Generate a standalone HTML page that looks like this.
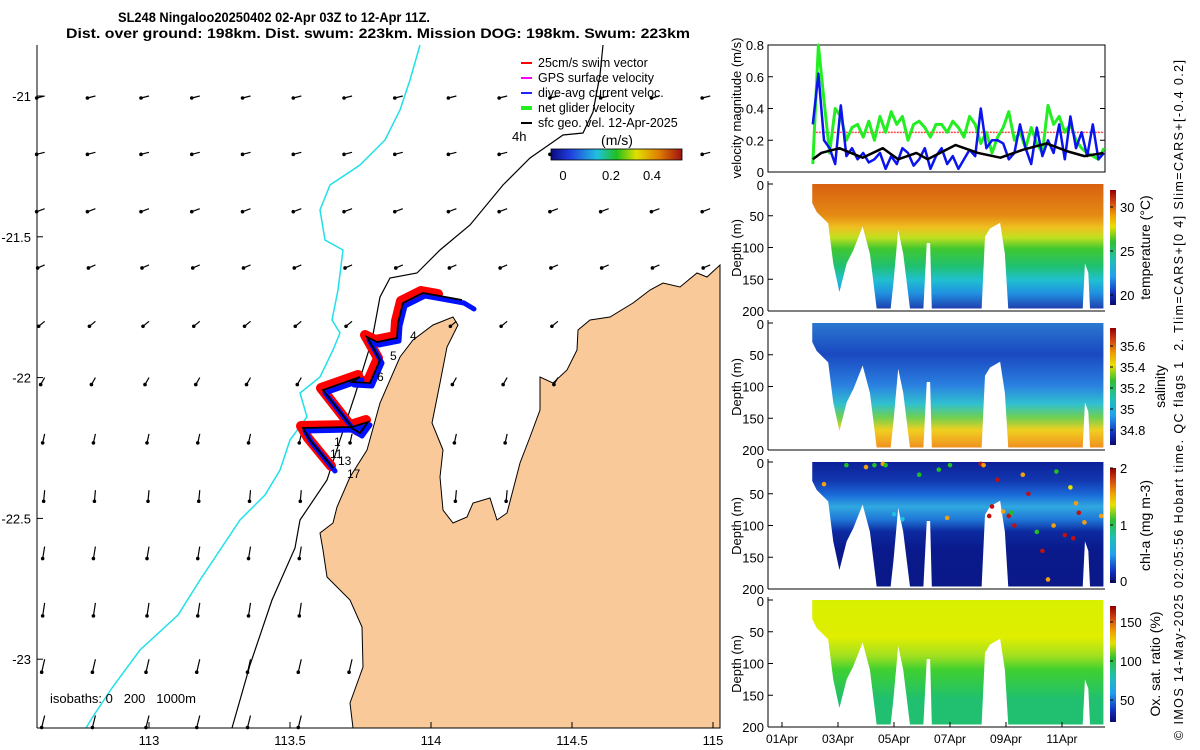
<!DOCTYPE html>
<html><head><meta charset="utf-8"><style>
html,body{margin:0;padding:0;background:#fff}
svg{display:block;font-family:"Liberation Sans",sans-serif}
.pre{white-space:pre}
</style></head><body>
<svg id="s" width="1200" height="750" viewBox="0 0 1200 750" xmlns="http://www.w3.org/2000/svg">
<defs>
<linearGradient id="gT" x1="0" y1="0" x2="0" y2="1"><stop offset="0" stop-color="#d86010"/><stop offset="0.25" stop-color="#e48a14"/><stop offset="0.35" stop-color="#f0c020"/><stop offset="0.43" stop-color="#c0e020"/><stop offset="0.52" stop-color="#40c830"/><stop offset="0.66" stop-color="#20c070"/><stop offset="0.77" stop-color="#20c0d0"/><stop offset="0.88" stop-color="#2090e0"/><stop offset="1" stop-color="#2040b0"/></linearGradient>
<linearGradient id="gS" x1="0" y1="0" x2="0" y2="1"><stop offset="0" stop-color="#2a78d0"/><stop offset="0.25" stop-color="#1a48c0"/><stop offset="0.5" stop-color="#2a80e0"/><stop offset="0.65" stop-color="#30c0d0"/><stop offset="0.76" stop-color="#70d050"/><stop offset="0.86" stop-color="#f0d020"/><stop offset="1" stop-color="#f09020"/></linearGradient>
<linearGradient id="gC" x1="0" y1="0" x2="0" y2="1"><stop offset="0" stop-color="#0c2098"/><stop offset="0.15" stop-color="#1238b0"/><stop offset="0.26" stop-color="#1a68d8"/><stop offset="0.36" stop-color="#30a8e0"/><stop offset="0.46" stop-color="#2078d8"/><stop offset="0.56" stop-color="#0c2aa0"/><stop offset="0.7" stop-color="#0a1a8c"/><stop offset="1" stop-color="#0a1888"/></linearGradient>
<linearGradient id="gO" x1="0" y1="0" x2="0" y2="1"><stop offset="0" stop-color="#d8f000"/><stop offset="0.3" stop-color="#e0ee00"/><stop offset="0.45" stop-color="#a0e020"/><stop offset="0.56" stop-color="#40d030"/><stop offset="0.8" stop-color="#20c070"/><stop offset="1" stop-color="#20c070"/></linearGradient>
<linearGradient id="cbV" x1="0" y1="0" x2="0" y2="1"><stop offset="0" stop-color="#900000"/><stop offset="0.1" stop-color="#d04010"/><stop offset="0.22" stop-color="#f0a000"/><stop offset="0.32" stop-color="#e8e000"/><stop offset="0.45" stop-color="#30c030"/><stop offset="0.6" stop-color="#20c0b0"/><stop offset="0.75" stop-color="#20a0f0"/><stop offset="0.9" stop-color="#1030c0"/><stop offset="1" stop-color="#0a0a70"/></linearGradient>
<linearGradient id="cbH" x1="0" y1="0" x2="1" y2="0"><stop offset="0" stop-color="#0a0a80"/><stop offset="0.15" stop-color="#2040e0"/><stop offset="0.35" stop-color="#20c0e0"/><stop offset="0.5" stop-color="#20c020"/><stop offset="0.65" stop-color="#e0e000"/><stop offset="0.82" stop-color="#e08000"/><stop offset="1" stop-color="#a01010"/></linearGradient>
</defs>
<g id="map"></g>
<g id="right"></g>
</svg>
<script>
// ---------- data ----------
const velT = [1.1,1.3,1.5,1.7,1.9,2.1,2.3,2.5,2.7,2.9,3.1,3.3,3.5,3.7,3.9,4.1,4.3,4.5,4.7,4.9,5.1,5.3,5.5,5.7,5.9,6.1,6.3,6.5,6.7,6.9,7.1,7.3,7.5,7.7,7.9,8.1,8.3,8.5,8.7,8.9,9.1,9.3,9.5,9.7,9.9,10.1,10.3,10.5,10.7,10.9,11.1,11.3,11.5];
const netGlider = [0.05,0.8,0.45,0.12,0.4,0.35,0.2,0.28,0.3,0.22,0.32,0.2,0.35,0.25,0.38,0.3,0.35,0.2,0.3,0.32,0.28,0.22,0.3,0.3,0.25,0.32,0.28,0.22,0.35,0.3,0.18,0.25,0.12,0.22,0.28,0.38,0.2,0.25,0.15,0.28,0.18,0.12,0.42,0.3,0.35,0.25,0.3,0.2,0.15,0.12,0.1,0.08,0.15];
const diveAvg = [0.3,0.62,0.2,0.15,0.05,0.42,0.1,0.15,0.08,0.12,0.06,0.08,0.12,0.02,0.1,0.05,0.15,0.12,0.04,0.08,0.15,0.02,0.1,0.15,0.05,0.1,0.02,0.08,0.14,0.1,0.4,0.15,0.2,0.2,0.18,0.08,0.12,0.3,0.15,0.05,0.28,0.1,0.2,0.12,0.3,0.08,0.35,0.15,0.25,0.1,0.3,0.08,0.12];
const geoT = [1.1,1.4,2.05,2.88,3.6,4.15,4.8,5.2,6.2,7.0,7.8,8.6,9.45,10.2,10.8,11.48];
const geoV = [0.08,0.12,0.15,0.09,0.15,0.08,0.12,0.08,0.17,0.12,0.09,0.14,0.18,0.13,0.1,0.12];
const swimSpeed = 0.25;
const envT = [1.08,1.08,1.24,1.65,1.83,2.05,2.31,2.55,2.88,3.14,3.38,3.88,3.98,4.15,4.33,4.57,5.05,5.17,5.29,5.35,7.13,7.25,7.43,7.79,7.96,8.08,10.74,10.82,10.94,11.0,11.48,11.48];
const envD = [0,30,44,62,125,170,125,104,67,110,196,196,156,72,110,196,196,93,93,196,196,83,70,61,110,196,196,125,140,196,196,0];
const chlDotT = [1.5,2.3,3.0,3.3,3.6,3.7,4.0,4.3,4.9,5.6,5.9,6.0,7.1,7.2,7.4,7.5,7.7,7.9,8.1,8.2,8.3,8.6,8.8,9.1,9.3,9.5,9.7,9.8,10.1,10.3,10.4,10.5,10.6,10.8,11.4];
const chlDotD = [35,5,8,5,3,5,82,90,20,12,88,5,3,5,85,70,28,78,85,80,100,20,50,110,140,185,100,15,115,40,120,65,80,95,85];
const chlDotV = [1.5,1.0,1.5,1.0,1.4,1.0,0.8,0.8,1.0,1.0,1.5,1.0,2.0,1.6,2.0,1.9,2.0,1.5,2.0,1.0,2.0,1.7,2.0,0.9,1.8,1.5,1.4,1.0,2.0,1.2,2.0,1.5,2.0,1.5,1.4];
const dayTicks = [0,2,4,6,8,10];
const dayLabels = ["01Apr","03Apr","05Apr","07Apr","09Apr","11Apr"];
const velTicks = [0,0.2,0.4,0.6,0.8];
const depthTicks = [0,50,100,150,200];
const lonTicks = [113,113.5,114,114.5,115];
const latTicks = [-21,-21.5,-22,-22.5,-23];
const windLat = [-21,-21.2,-21.4,-21.6,-21.8,-22,-22.2,-22.4,-22.6,-22.8,-23,-23.2];
const windLon = [112.63,112.81,113,113.18,113.36,113.54,113.72,113.9,114.09,114.27,114.45,114.63,114.81,114.99];
const windU = [-8,-8,-8,-7,-6,-4,-2,-1,-2,-2,-3,-3];
const windV = [2,2,3,3,5,7,9,11,12,13,13,12];

const NS="http://www.w3.org/2000/svg";
function mk(tag, attrs, parent, text){const e=document.createElementNS(NS,tag);for(const k in attrs)e.setAttribute(k,attrs[k]);if(text!==undefined)e.textContent=text;parent.appendChild(e);return e;}
const map=document.getElementById('map'), right=document.getElementById('right'), svg=document.getElementById('s');

// ---------- map ----------
const lonX = lon => 149 + (lon-113)*282;
const latY = lat => 96 + (-21-lat)*281.6;
const landPts = [[353,728],[350,703],[363,667],[362,627],[350,600],[327,577],[323,550],[320,533],[333,523],[337,507],[350,477],[367,450],[380,403],[400,357],[413,340],[433,325],[453,317],[458,325],[447,347],[440,383],[432,423],[443,450],[440,477],[443,510],[453,523],[467,517],[473,503],[490,498],[497,520],[507,513],[513,490],[520,463],[530,437],[540,410],[540,377],[553,383],[567,370],[577,350],[578,330],[590,320],[610,317],[633,303],[650,290],[663,283],[680,287],[697,273],[707,277],[720,265],[720,728]];
const landD = 'M'+landPts.map(p=>p.join(',')).join('L')+'Z';
const land = mk('path',{d:landD,fill:'#fac99a',stroke:'#000','stroke-width':1},map);


const cyanPts=[[420,45],[410,80],[400,110],[385,140],[360,165],[330,185],[320,210],[325,240],[343,250],[338,290],[332,320],[340,333],[333,350],[320,377],[300,393],[307,417],[290,440],[280,470],[265,495],[240,520],[220,550],[200,580],[178,615],[140,650],[112,688],[92,718],[86,728]];
const cy=mk('polyline',{points:cyanPts.map(p=>p.join(',')).join(' '),fill:'none',stroke:'#20e0e8','stroke-width':1.5},map);


const isoPts=[[232,728],[250,665],[272,600],[295,548],[300,520],[327,480],[340,440],[355,395],[372,340],[380,297],[390,278],[417,273],[440,250],[470,225],[503,185],[530,158],[553,142],[563,135],[583,133],[593,112],[600,75],[603,45]];
const iso=mk('polyline',{points:isoPts.map(p=>p.join(',')).join(' '),fill:'none',stroke:'#000','stroke-width':1.2},map);


// wind arrows
const cv=document.createElement('canvas').getContext('2d');
const landPath=new Path2D(landD);
const wg=mk('g',{},map);


windLat.forEach((la,i)=>{windLon.forEach(lo=>{
  const x=lonX(lo), y=latY(la);
  if(x<40||x>718||y>726) return;
  if(cv.isPointInPath(landPath,x,y)) return;
  const x2=x+windU[i], y2=y+windV[i];
  const a=mk('line',{x1:x,y1:y,x2:x2,y2:y2,stroke:'#000','stroke-width':1.2},wg);
  
  
  const h=mk('circle',{cx:x2,cy:y2,r:1.8,fill:'#000'},wg);
  
  
});});
// track
const trackPts=[[472,306],[462,300],[440,296],[423,293],[403,303],[398,323],[397,338],[377,342],[367,337],[380,360],[370,383],[352,382],[360,377],[323,390],[352,427],[368,422],[360,433],[350,427],[303,428],[310,440],[333,468]];
const tp=p=>p.map(q=>q.join(',')).join(' ');
const red=mk('polyline',{points:tp(trackPts.slice(2).map(p=>[p[0]-2,p[1]-2])),fill:'none',stroke:'#f00','stroke-width':10,'stroke-linejoin':'round','stroke-linecap':'round'},map);


const blu=mk('polyline',{points:tp(trackPts.map(p=>[p[0]+2,p[1]+3])),fill:'none',stroke:'#0010ff','stroke-width':5,'stroke-linejoin':'round','stroke-linecap':'round'},map);


const blk=mk('polyline',{points:tp(trackPts.slice(1)),fill:'none',stroke:'#000','stroke-width':1.8},map);


[["4",410,340],["5",390,360],["6",377,381],["1",334,446],["11",330,458],["13",338,465],["17",347,478]].forEach(d=>{
  const t=mk('text',{x:d[1],y:d[2],'font-size':12,fill:'#000'},map,d[0]);
  
  
});
// map axes
const ma=mk('g',{},map);


mk('line',{x1:37,y1:45,x2:37,y2:728,stroke:'#000','stroke-width':1},ma);
mk('line',{x1:37,y1:728,x2:720,y2:728,stroke:'#000','stroke-width':1},ma);
lonTicks.forEach(v=>{const x=lonX(v);mk('line',{x1:x,y1:728,x2:x,y2:722,stroke:'#000'},ma);
  const t=mk('text',{x:x,y:745,'font-size':13,'text-anchor':'middle'},ma,String(v));
  
  });
latTicks.forEach(v=>{const y=latY(v);mk('line',{x1:37,y1:y,x2:43,y2:y,stroke:'#000'},ma);
  const t=mk('text',{x:31,y:y+5,'font-size':13,'text-anchor':'end'},ma,String(v));
  
  });
let t=mk('text',{x:50,y:703,'font-size':13,'class':'pre'},map,'isobaths: 0   200   1000m');


// legend
const lg=mk('g',{},map);


[['#f00','25cm/s swim vector',2],['#f0f','GPS surface velocity',2],['#22f','dive-avg current veloc.',2],['#2e2','net glider velocity',4],['#000','sfc geo. vel. 12-Apr-2025',2]].forEach((e,i)=>{
  const y=62+i*15;
  const l=mk('line',{x1:521,y1:y+1,x2:532,y2:y+1,stroke:e[0],'stroke-width':e[2]},lg);
  
  
  const tx=mk('text',{x:538,y:y+5,'font-size':12.5},lg,e[1]);
  
  
});
t=mk('text',{x:512,y:141,'font-size':13},map,'4h');  
t=mk('text',{x:617,y:145,'font-size':14,'text-anchor':'middle'},map,'(m/s)');  
t=mk('rect',{x:551,y:149,width:131,height:11,fill:'url(#cbH)',stroke:'#000','stroke-width':0.8},map);  
[['0',563],['0.2',611],['0.4',652]].forEach(d=>{const q=mk('text',{x:d[1],y:180,'font-size':13,'text-anchor':'middle'},map,d[0]);});
// title
t=mk('text',{x:118,y:22,'font-size':13.5,'font-weight':'bold',textLength:312,lengthAdjust:'spacingAndGlyphs'},svg,'SL248 Ningaloo20250402 02-Apr 03Z to 12-Apr 11Z.');  
t=mk('text',{x:66,y:38,'font-size':13.5,'font-weight':'bold',textLength:624,lengthAdjust:'spacingAndGlyphs'},svg,'Dist. over ground: 198km. Dist. swum: 223km. Mission DOG: 198km. Swum: 223km');  

// ---------- right panels ----------
const PX0=768, PX1=1105;
const dX = d => 782 + d*28;
const vTop=45, vBot=172;
const vY = v => vBot - v/0.8*(vBot-vTop);
const vp=mk('g',{},right);  
mk('rect',{x:PX0,y:vTop,width:PX1-PX0,height:vBot-vTop,fill:'none',stroke:'#000','stroke-width':1},vp);
velTicks.forEach(v=>{const y=vY(v);mk('line',{x1:PX0,y1:y,x2:PX0+5,y2:y,stroke:'#000'},vp);mk('line',{x1:PX1,y1:y,x2:PX1-5,y2:y,stroke:'#000'},vp);
  const q=mk('text',{x:764,y:y+5,'font-size':13,'text-anchor':'end'},vp,String(v));});
t=mk('line',{x1:dX(velT[0]),y1:vY(swimSpeed),x2:dX(velT[velT.length-1]),y2:vY(swimSpeed),stroke:'#f44','stroke-width':1.5,'stroke-dasharray':'2,1'},vp);  
const line=(T,V,col,w,name)=>{const l=mk('polyline',{points:T.map((d,i)=>dX(d)+','+vY(V[i])).join(' '),fill:'none',stroke:col,'stroke-width':w,'stroke-linejoin':'round'},vp);};
line(velT,netGlider,'#22ee22',3,'net-glider-velocity-line');
line(velT,diveAvg,'#0a14ee',2.5,'dive-avg-current-line');
line(geoT,geoV,'#000',2.5,'sfc-geo-velocity-line');
t=mk('text',{transform:'translate(741,108) rotate(-90)','font-size':13,'text-anchor':'middle'},vp,'velocity magnitude (m/s)');  

const panels=[
 {top:184,grad:'url(#gT)',name:'temperature',label:'temperature (°C)',lx:1150,ticks:[['30',207],['25',251],['20',295]],cb:[190,305]},
 {top:323,grad:'url(#gS)',name:'salinity',label:'salinity',lx:1165,ticks:[['35.6',346],['35.4',367],['35.2',388],['35',409],['34.8',430]],cb:[328,445]},
 {top:462,grad:'url(#gC)',name:'chlorophyll',label:'chl-a (mg m-3)',lx:1150,ticks:[['2',468],['1',525],['0',581]],cb:[468,583]},
 {top:600,grad:'url(#gO)',name:'oxygen',label:'Ox. sat. ratio (%)',lx:1160,ticks:[['150',622],['100',661],['50',700]],cb:[606,722]}
];
panels.forEach((p,pi)=>{
  const g=mk('g',{},right);  
  const dY=d=>p.top+d/200*127;
  const poly=mk('polygon',{points:envT.map((d,i)=>dX(d)+','+dY(envD[i])).join(' '),fill:p.grad},g);
  
  
  mk('line',{x1:PX0,y1:p.top-3,x2:PX0,y2:dY(200),stroke:'#000'},g);
  mk('line',{x1:PX0,y1:dY(200),x2:PX1,y2:dY(200),stroke:'#000'},g);
  depthTicks.forEach(d=>{const y=dY(d);mk('line',{x1:PX0,y1:y,x2:PX0+5,y2:y,stroke:'#000'},g);
    const q=mk('text',{x:764,y:y+(d===0?6:5),'font-size':13,'text-anchor':'end'},g,String(d));});
  const at=mk('text',{transform:`translate(741,${p.top+64}) rotate(-90)`,'font-size':13,'text-anchor':'middle'},g,'Depth (m)');
   
  const cb=mk('rect',{x:1110,y:p.cb[0],width:6,height:p.cb[1]-p.cb[0],fill:'url(#cbV)'},g);
   
  p.ticks.forEach(tk=>{mk('line',{x1:1110,y1:tk[1],x2:1113,y2:tk[1],stroke:'#000'},g);
    const q=mk('text',{x:1120,y:tk[1]+5,'font-size':13},g,tk[0]);});
  const cl=mk('text',{transform:`translate(${p.lx},${(p.cb[0]+p.cb[1])/2}) rotate(-90)`,'font-size':14,'text-anchor':'middle'},g,p.label);
   
  if(p.name==='chlorophyll'){
    const cols=v=>v>=1.8?'#c01010':v>=1.4?'#f0a010':v>=1.1?'#e8e000':v>=0.9?'#20c020':'#20c0e0';
    chlDotT.forEach((d,i)=>{const c=mk('circle',{cx:dX(d),cy:dY(chlDotD[i]),r:2.3,fill:cols(chlDotV[i])},g);
      
      });
  }
});
const ta=mk('g',{},right);  
dayTicks.forEach((d,i)=>{const x=dX(d);mk('line',{x1:x,y1:727,x2:x,y2:722,stroke:'#000'},ta);
  const q=mk('text',{x:x,y:743,'font-size':12,'text-anchor':'middle'},ta,dayLabels[i]);});
t=mk('text',{transform:'translate(1183,740) rotate(-90)','font-size':12.5,textLength:680,'class':'pre'},svg,'© IMOS 14-May-2025 02:05:56 Hobart time. QC flags 1  2. Tlim=CARS+[0 4] Slim=CARS+[-0.4 0.2]');
 
</script>
</body></html>
